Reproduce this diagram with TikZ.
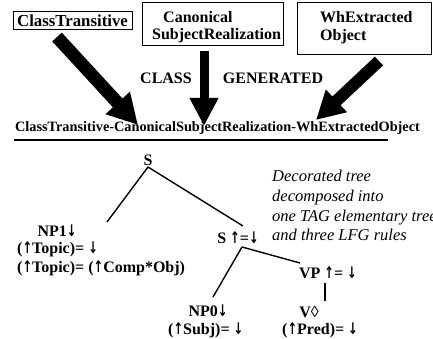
\documentclass[tikz,border=0pt]{standalone}
\usepackage{fontspec}
\setmainfont{Liberation Serif}
\newfontfamily\arrowfont[FakeStretch=0.72]{DejaVu Sans}
\newcommand{\ua}{{\arrowfont\bfseries ↑}}
\newcommand{\da}{{\arrowfont\bfseries ↓}}
\usetikzlibrary{arrows.meta}
\tikzset{
  lbl/.style={font=\fontsize{16}{19}\selectfont\bfseries, inner sep=0pt},
  box/.style={draw, line width=1pt, inner sep=0pt},
  treeline/.style={line width=1.4pt},
}
\begin{document}
\begin{tikzpicture}[x=1pt,y=-1pt]
\useasboundingbox (0,0) rectangle (433,339);
% boxes
\node[box, minimum width=119pt, minimum height=18pt] (ct) at (72.5,21) {};
\node[lbl, font=\fontsize{16.8}{19}\selectfont\bfseries] at (ct.center) {ClassTransitive};
\node[box, minimum width=141pt, minimum height=43pt] (csr) at (212.5,24.5) {};
\node[lbl, anchor=west] (csr1) at (163,17) {Canonical};
\node[lbl, anchor=west] (csr2) at (152,36) {SubjectRealization};
\node[box, minimum width=134pt, minimum height=52pt] (wh) at (364,29) {};
\node[lbl, anchor=west] (wh1) at (320,17) {WhExtracted};
\node[lbl, anchor=west] (wh2) at (320,37) {Object};
% labels
\node[lbl] (cls) at (166,78) {CLASS};
\node[lbl] (gen) at (273,78) {GENERATED};
% long label
\node[font=\fontsize{14.3}{17}\selectfont\bfseries, inner sep=0pt] (long) at (217.5,128) {ClassTransitive-CanonicalSubjectRealization-WhExtractedObject};
\coordinate (ul1) at (14,140);
\coordinate (ul2) at (388,140);
\draw[line width=1.3pt] (ul1) -- (ul2);
% big arrows
\coordinate (a1s) at (57,37);
\coordinate (a1e) at (138,125);
\coordinate (a2s) at (204,51);
\coordinate (a2e) at (204,126);
\coordinate (a3s) at (379,61);
\coordinate (a3e) at (316,120);
\draw[line width=13pt, -{Triangle[length=30pt,width=31pt]}] (a1s) -- (a1e);
\draw[line width=9pt, -{Triangle[length=28pt,width=27pt]}] (a2s) -- (a2e);
\draw[line width=12pt, -{Triangle[length=28pt,width=29pt]}] (a3s) -- (a3e);
% tree
\node[lbl] (s) at (148,160) {S};
\node[lbl] (s2) at (238,238) {S \ua=\da};
\node[lbl] (np1) at (57,231) {NP1\da};
\node[lbl, anchor=west] (np1a) at (17,249) {(\ua Topic)= \da};
\node[lbl, anchor=west] (np1b) at (17,268) {(\ua Topic)= (\ua Comp*Obj)};
\node[lbl] (vp) at (328,273) {VP \ua= \da};
\node[lbl] (np0) at (208,311) {NP0\da};
\node[lbl, anchor=west] (np0a) at (168,330) {(\ua Subj)= \da};
\node[lbl] (v) at (309,312) {V◊};
\node[lbl, anchor=west] (va) at (282,330) {(\ua Pred)= \da};
\coordinate (sb) at (148,167);
\coordinate (np1t) at (107,222);
\coordinate (s2t) at (243,226);
\coordinate (s2b) at (242,247);
\coordinate (np0t) at (213,297);
\coordinate (vpt) at (300,263);
\coordinate (vpb) at (325,283);
\coordinate (vt) at (325,301);
\draw[treeline] (sb) -- (np1t);
\draw[treeline] (sb) -- (s2t);
\draw[treeline] (s2b) -- (np0t);
\draw[treeline] (s2b) -- (vpt);
\draw[treeline] (vpb) -- (vt);
% italic note
\node[anchor=north west, align=left, inner sep=0pt, font=\fontsize{16.5}{19.7}\selectfont\itshape] (note) at (272,170) {Decorated tree\\decomposed into\\one TAG elementary tree\\and three LFG rules};
\end{tikzpicture}
\end{document}
